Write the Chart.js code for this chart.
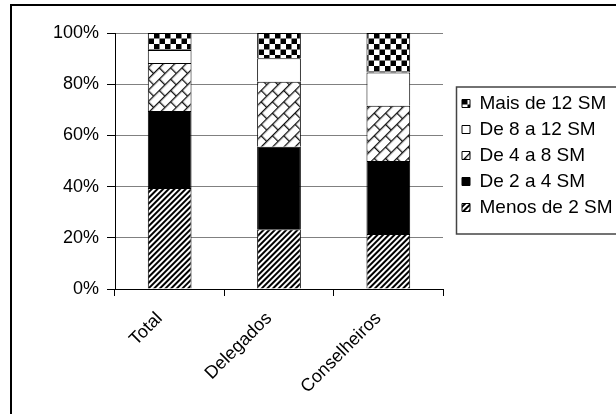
<!DOCTYPE html>
<html><head><meta charset="utf-8">
<script src="https://cdn.jsdelivr.net/npm/chart.js@4/dist/chart.umd.min.js"></script>
<style>
html,body{margin:0;padding:0;overflow:hidden;background:#fff;width:616px;height:414px}
#wrap{position:absolute;left:0;top:0;width:720px;height:460px}
</style></head>
<body><div id="wrap"><canvas id="c" width="720" height="460"></canvas></div>
<script>
// ---- data ----
const categories = ['Total', 'Delegados', 'Conselheiros'];
const seriesNames = ['Menos de 2 SM', 'De 2 a 4 SM', 'De 4 a 8 SM', 'De 8 a 12 SM', 'Mais de 12 SM'];
const menos2 = [39.5, 23.3, 21.5];
const de2a4  = [30.0, 32.3, 28.5];
const de4a8  = [18.8, 25.4, 21.6];
const de8a12 = [5.1, 9.1, 13.0];
const mais12 = [6.6, 9.9, 15.4];
const yTicks = [0, 20, 40, 60, 80, 100];

// ---- patterns ----
const mainCtx = document.getElementById('c').getContext('2d');
function tile(w, h, draw) {
  const t = document.createElement('canvas');
  t.width = w; t.height = h;
  const g = t.getContext('2d');
  g.fillStyle = '#fff'; g.fillRect(0, 0, w, h);
  draw(g);
  return t;
}
function hatch() {
  const t = tile(4, 4, g => { g.fillStyle = '#000'; g.fillRect(0, 0, 4, 2); });
  const p = mainCtx.createPattern(t, 'repeat');
  p.setTransform(new DOMMatrix().rotate(-45));
  return p;
}
function brick() {
  const t = tile(16, 16, g => {
    g.fillStyle = '#111';
    g.fillRect(0, 0, 16, 1.3);
    g.fillRect(0, 8, 16, 1.3);
    g.fillRect(0, 0, 1.3, 8);
    g.fillRect(8, 8, 1.3, 8);
  });
  const p = mainCtx.createPattern(t, 'repeat');
  p.setTransform(new DOMMatrix().rotate(-45));
  return p;
}
function checker() {
  const t = tile(11, 11, g => {
    g.fillStyle = '#000';
    g.fillRect(0, 0, 5.5, 5.5);
    g.fillRect(5.5, 5.5, 5.5, 5.5);
  });
  return mainCtx.createPattern(t, 'repeat');
}
const fills = [hatch(), '#000000', brick(), '#ffffff', checker()];
const values = [menos2, de2a4, de4a8, de8a12, mais12];

const FONT = { family: '"Liberation Sans", Arial, sans-serif', size: 18 };
const LEGEND_FONT = { family: '"Liberation Sans", Arial, sans-serif', size: 19 };
Chart.defaults.color = '#000';

const LEGEND_LEFT = 455, LEGEND_TOP = 87;

const framePlugin = {
  id: 'frame',
  afterLayout(chart) {
    const lg = chart.legend;
    if (lg) {
      lg.left = LEGEND_LEFT; lg.right = chart.width;
      lg.top = LEGEND_TOP; lg.bottom = chart.height;
    }
  },
  afterDraw(chart) {
    const ctx = chart.ctx;
    ctx.save();
    ctx.strokeStyle = '#000';
    ctx.lineWidth = 2;
    ctx.strokeRect(11, 5, 900, 700);
    ctx.strokeStyle = '#444';
    ctx.lineWidth = 1.5;
    ctx.strokeRect(456.5, 87, 400, 147);
    ctx.restore();
  }
};

const chart = new Chart(document.getElementById('c'), {
  type: 'bar',
  data: {
    labels: categories,
    datasets: seriesNames.map((name, i) => ({
      label: name,
      data: values[i],
      backgroundColor: fills[i],
      borderColor: '#000',
      borderWidth: 1,
      barPercentage: 0.4,
      categoryPercentage: 1.0
    }))
  },
  options: {
    responsive: false,
    animation: false,
    devicePixelRatio: 1,
    events: [],
    layout: { padding: { left: 20, top: 33, right: 40, bottom: 0 } },
    plugins: {
      tooltip: { enabled: false },
      legend: {
        position: 'right',
        align: 'start',
        reverse: true,
        maxWidth: 400,
        labels: {
          font: LEGEND_FONT,
          boxWidth: 8,
          boxHeight: 8,
          padding: 7,
          color: '#000'
        }
      }
    },
    scales: {
      x: {
        stacked: true,
        grid: { display: true, drawOnChartArea: false, offset: true, tickLength: 7, tickColor: '#000', color: '#000' },
        border: { color: '#000', width: 1 },
        ticks: { font: FONT, maxRotation: 45, minRotation: 45, padding: 12, labelOffset: -10, color: '#000' },
        afterFit(s) { s.height = 171; }
      },
      y: {
        stacked: true,
        min: 0, max: 100,
        afterBuildTicks(s) { s.ticks = yTicks.map(v => ({ value: v })); },
        grid: { color: '#808080', lineWidth: 1, tickLength: 8, tickColor: '#000' },
        border: { color: '#000', width: 1 },
        ticks: { font: FONT, padding: 8, color: '#000', callback: v => v + '%' },
        afterFit(s) { s.width = 95; }
      }
    }
  },
  plugins: [framePlugin]
});

// align plot area with the reference
const target = { left: 115, top: 33, right: 443, bottom: 289 };
for (let i = 0; i < 3; i++) {
  const a = chart.chartArea;
  const p = chart.options.layout.padding;
  p.left += target.left - a.left;
  p.top += target.top - a.top;
  p.right += a.right - target.right;
  p.bottom += a.bottom - target.bottom;
  chart.update('none');
}
</script>
</body></html>
